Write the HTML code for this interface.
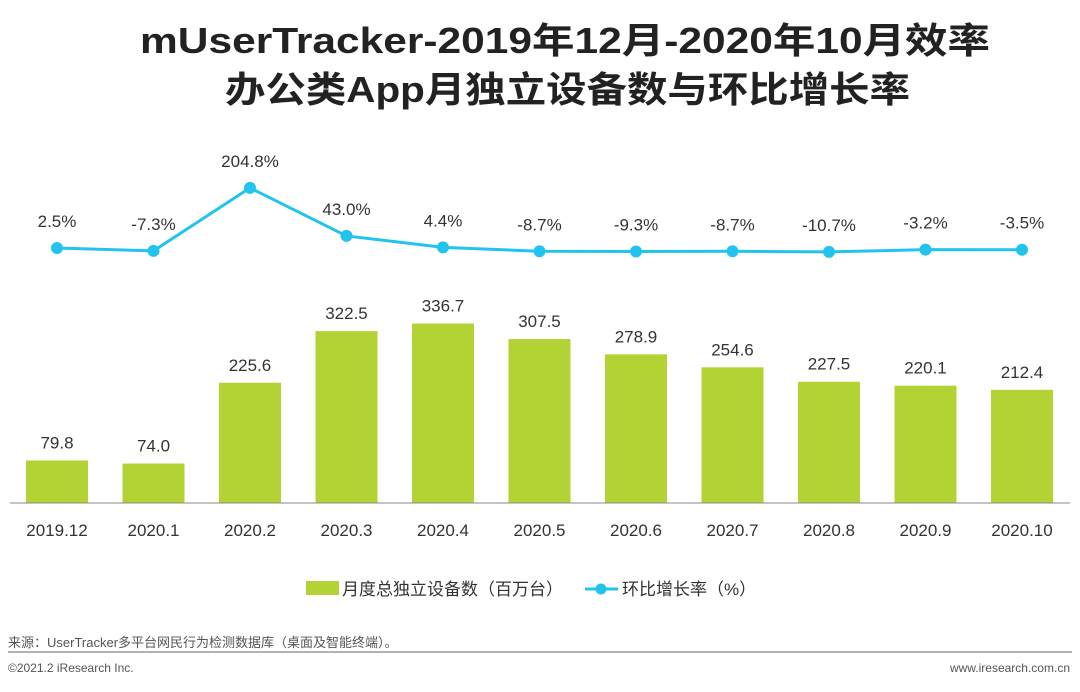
<!DOCTYPE html>
<html><head><meta charset="utf-8"><style>
body{margin:0;background:#fff;width:1080px;height:687px;overflow:hidden;font-family:"Liberation Sans","Noto Sans CJK SC",sans-serif}
</style></head><body>
<svg width="1080" height="687" xmlns="http://www.w3.org/2000/svg" font-family="Liberation Sans, Noto Sans CJK SC, sans-serif">
<text x="140" y="53" font-size="36" font-weight="bold" fill="#222" textLength="850" lengthAdjust="spacingAndGlyphs">mUserTracker-2019年12月-2020年10月效率</text>
<text x="225" y="102" font-size="36" font-weight="bold" fill="#222" textLength="685" lengthAdjust="spacingAndGlyphs">办公类App月独立设备数与环比增长率</text>
<g id="bars"></g>
<line x1="10" y1="503" x2="1070" y2="503" stroke="#888" stroke-width="1"/>
<g id="line"></g>
<g>
<rect x="306" y="581" width="33" height="14" fill="#b3d233"/>
<text x="342" y="595" font-size="17" fill="#333">月度总独立设备数（百万台）</text>
<line x1="585" y1="589" x2="618" y2="589" stroke="#22c4ee" stroke-width="3"/>
<circle cx="601" cy="589" r="5.5" fill="#22c4ee"/>
<text x="622" y="595" font-size="17" fill="#333">环比增长率（%）</text>
</g>
<text x="8" y="647" font-size="13" fill="#555">来源：UserTracker多平台网民行为检测数据库（桌面及智能终端）。</text>
<line x1="8" y1="652" x2="1072" y2="652" stroke="#999" stroke-width="1.5"/>
<text x="8" y="672" font-size="12" fill="#555">©2021.2 iResearch Inc.</text>
<text x="1070" y="672" text-anchor="end" font-size="12" fill="#555">www.iresearch.com.cn</text>
</svg>
<script>
const categories=["2019.12","2020.1","2020.2","2020.3","2020.4","2020.5","2020.6","2020.7","2020.8","2020.9","2020.10"];
const devices=[79.8,74.0,225.6,322.5,336.7,307.5,278.9,254.6,227.5,220.1,212.4];
const growth=[2.5,-7.3,204.8,43.0,4.4,-8.7,-9.3,-8.7,-10.7,-3.2,-3.5];
const NS="http://www.w3.org/2000/svg";
const xc=i=>57+i*96.5;
const yb=v=>503-v*0.533;
const yl=v=>248.7-v*0.297;
function mk(t,a,p){const e=document.createElementNS(NS,t);for(const k in a)e.setAttribute(k,a[k]);p.appendChild(e);return e;}
const gb=document.getElementById('bars'),gl=document.getElementById('line');
categories.forEach((c,i)=>{
 const r=mk('rect',{x:xc(i)-31,y:yb(devices[i]),width:62,height:503-yb(devices[i]),fill:'#b3d233'},gb);
 
 
 const t=mk('text',{x:xc(i),y:yb(devices[i])-12,'text-anchor':'middle','font-size':17,fill:'#333'},gb);
 t.textContent=devices[i].toFixed(1);
 
 
 const xl=mk('text',{x:xc(i),y:536,'text-anchor':'middle','font-size':17,fill:'#333'},gb);
 xl.textContent=c;
 
 
});
const pl=mk('polyline',{points:growth.map((v,i)=>xc(i)+','+yl(v)).join(' '),fill:'none',stroke:'#22c4ee','stroke-width':3},gl);


growth.forEach((v,i)=>{
 const c=mk('circle',{cx:xc(i),cy:yl(v),r:6,fill:'#22c4ee'},gl);
 
 
 const t=mk('text',{x:xc(i),y:yl(v)-21,'text-anchor':'middle','font-size':17,fill:'#333'},gl);
 t.textContent=v.toFixed(1)+'%';
 
 
});
</script>
</body></html>
